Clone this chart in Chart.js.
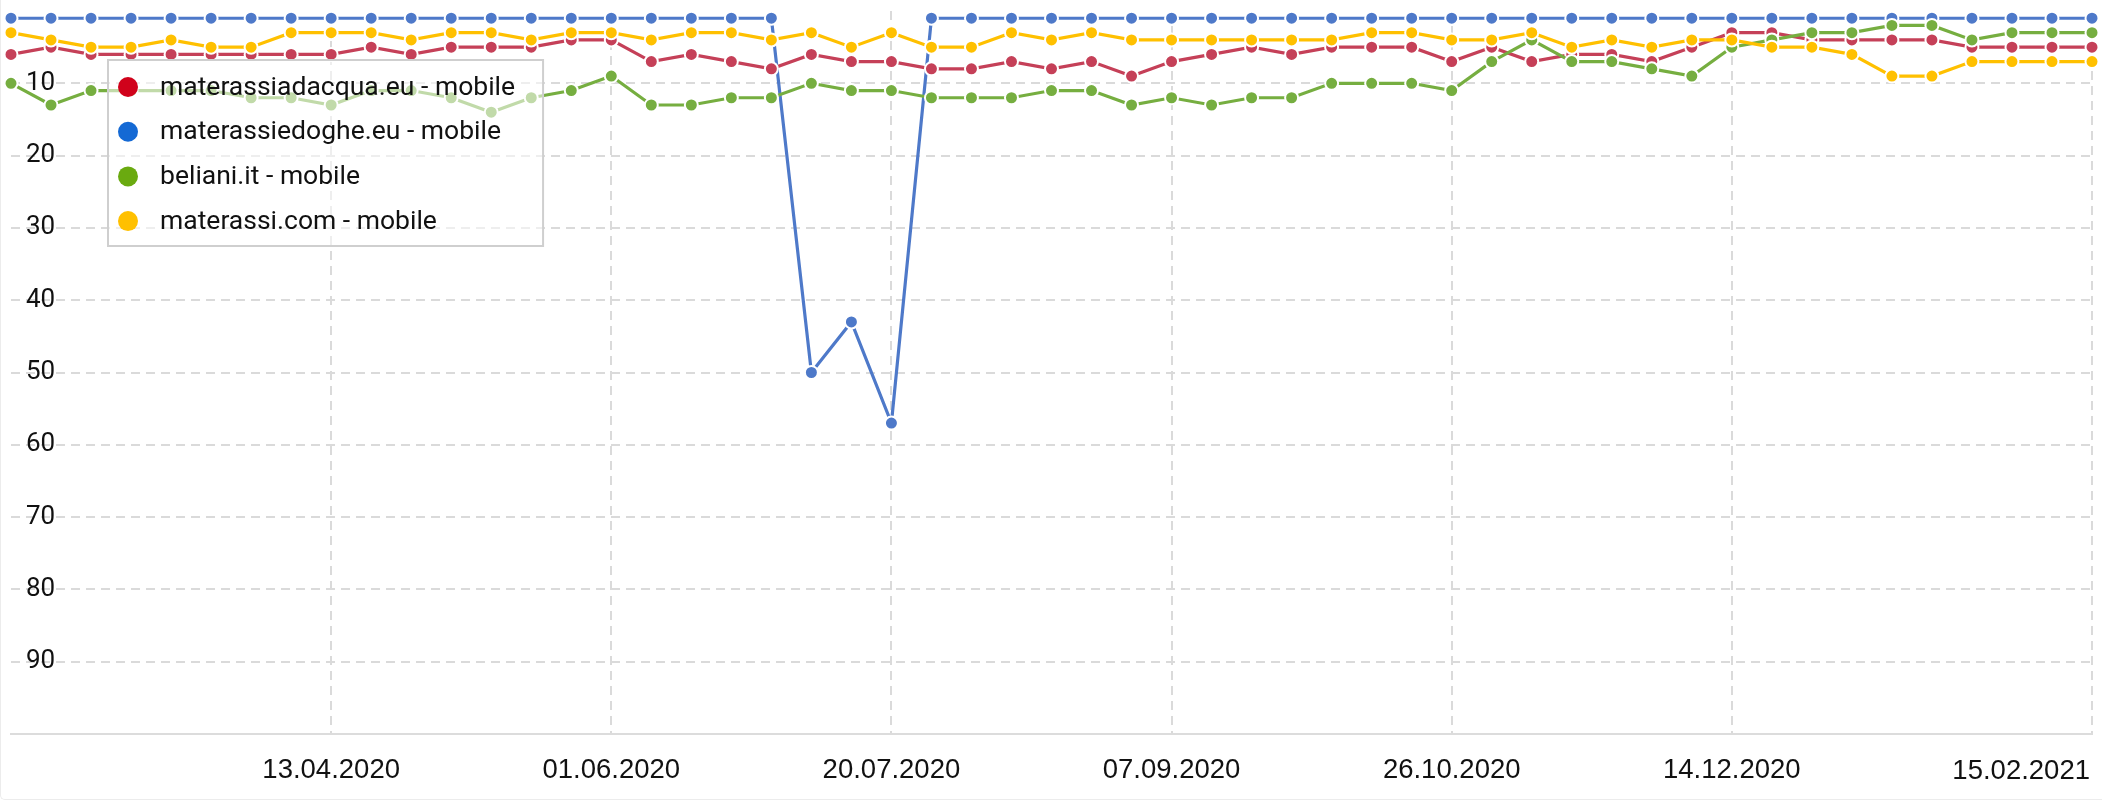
<!DOCTYPE html>
<html>
<head>
<meta charset="utf-8">
<script src="https://cdn.jsdelivr.net/npm/chart.js@4.4.1/dist/chart.umd.min.js"></script>
<style>
  html, body { margin: 0; padding: 0; background: #fff; }
  #wrap {
    position: relative; width: 2102px; height: 800px; box-sizing: border-box;
    border-left: 1px solid #ececec; border-bottom: 1px solid #ececec; border-bottom-left-radius: 5px;
  }
</style>
</head>
<body>
<div id="wrap"><canvas id="rankChart"></canvas></div>
<script>
// weekly dates
const weeks = [
  '17.02.2020', '24.02.2020', '02.03.2020', '09.03.2020', '16.03.2020', '23.03.2020', '30.03.2020',
  '06.04.2020', '13.04.2020', '20.04.2020', '27.04.2020', '04.05.2020', '11.05.2020', '18.05.2020',
  '25.05.2020', '01.06.2020', '08.06.2020', '15.06.2020', '22.06.2020', '29.06.2020', '06.07.2020',
  '13.07.2020', '20.07.2020', '27.07.2020', '03.08.2020', '10.08.2020', '17.08.2020', '24.08.2020',
  '31.08.2020', '07.09.2020', '14.09.2020', '21.09.2020', '28.09.2020', '05.10.2020', '12.10.2020',
  '19.10.2020', '26.10.2020', '02.11.2020', '09.11.2020', '16.11.2020', '23.11.2020', '30.11.2020',
  '07.12.2020', '14.12.2020', '21.12.2020', '28.12.2020', '04.01.2021', '11.01.2021', '18.01.2021',
  '25.01.2021', '01.02.2021', '08.02.2021', '15.02.2021'
];
const shownTicks = ['13.04.2020', '01.06.2020', '20.07.2020', '07.09.2020', '26.10.2020', '14.12.2020', '15.02.2021'];
const rankTicks = [10, 20, 30, 40, 50, 60, 70, 80, 90];

// positions (rank) per domain
const materassiadacqua = [6, 5, 6, 6, 6, 6, 6, 6, 6, 5, 6, 5, 5, 5, 4, 4, 7, 6, 7, 8, 6, 7, 7, 8, 8, 7, 8,
  7, 9, 7, 6, 5, 6, 5, 5, 5, 7, 5, 7, 6, 6, 7, 5, 3, 3, 4, 4, 4, 4, 5, 5, 5, 5];
const materassiedoghe = [1, 1, 1, 1, 1, 1, 1, 1, 1, 1, 1, 1, 1, 1, 1, 1, 1, 1, 1, 1, 50, 43, 57, 1, 1, 1, 1,
  1, 1, 1, 1, 1, 1, 1, 1, 1, 1, 1, 1, 1, 1, 1, 1, 1, 1, 1, 1, 1, 1, 1, 1, 1, 1];
const beliani = [10, 13, 11, 11, 11, 11, 12, 12, 13, 11, 11, 12, 14, 12, 11, 9, 13, 13, 12, 12, 10, 11, 11, 12, 12, 12, 11,
  11, 13, 12, 13, 12, 12, 10, 10, 10, 11, 7, 4, 7, 7, 8, 9, 5, 4, 3, 3, 2, 2, 4, 3, 3, 3];
const materassi = [3, 4, 5, 5, 4, 5, 5, 3, 3, 3, 4, 3, 3, 4, 3, 3, 4, 3, 3, 4, 3, 5, 3, 5, 5, 3, 4,
  3, 4, 4, 4, 4, 4, 4, 3, 3, 4, 4, 3, 5, 4, 5, 4, 4, 5, 5, 6, 9, 9, 7, 7, 7, 7];

const legendOrder = ['materassiadacqua.eu - mobile', 'materassiedoghe.eu - mobile', 'beliani.it - mobile', 'materassi.com - mobile'];

function series(label, data, line, dot) {
  return {
    label: label, data: data, legendColor: dot,
    borderColor: line, backgroundColor: line, borderWidth: 3.2,
    pointRadius: 6.5, pointBorderWidth: 2, pointBorderColor: '#fff', pointBackgroundColor: line,
    pointHoverRadius: 6.5, tension: 0
  };
}

// legend box drawn over the plot, top left
const boxLegend = {
  id: 'boxLegend',
  afterDatasetsDraw(chart) {
    const ctx = chart.ctx;
    const items = legendOrder.map(l => chart.data.datasets.find(d => d.label === l));
    const x0 = 107, y0 = 60, rowH = 44.7;
    ctx.save();
    ctx.font = '26.5px Roboto';
    let w = 0;
    items.forEach(d => { w = Math.max(w, ctx.measureText(d.label).width); });
    const bw = 52 + w + 28, bh = 186;
    ctx.fillStyle = 'rgba(255,255,255,0.55)';
    ctx.fillRect(x0, y0, bw, bh);
    ctx.strokeStyle = '#cfcfcf';
    ctx.lineWidth = 2;
    ctx.strokeRect(x0, y0, bw, bh);
    items.forEach((d, i) => {
      const cy = y0 + 27 + i * rowH;
      ctx.beginPath();
      ctx.arc(x0 + 20, cy, 10, 0, Math.PI * 2);
      ctx.fillStyle = d.legendColor;
      ctx.fill();
      ctx.fillStyle = '#111';
      ctx.textBaseline = 'middle';
      ctx.textAlign = 'left';
      ctx.fillText(d.label, x0 + 52, cy + 1);
    });
    ctx.restore();
  }
};

// last date label sits right-aligned on the last tick
const endLabel = {
  id: 'endLabel',
  afterDraw(chart) {
    const sx = chart.scales.x;
    const last = weeks.length - 1;
    const ctx = chart.ctx;
    ctx.save();
    ctx.font = '27.5px "Liberation Sans"';
    ctx.fillStyle = '#111';
    ctx.textAlign = 'right';
    ctx.textBaseline = 'middle';
    ctx.fillText(weeks[last], sx.getPixelForValue(last) - 2, 771);
    ctx.restore();
  }
};

new Chart(document.getElementById('rankChart'), {
  type: 'line',
  data: {
    labels: weeks,
    datasets: [
      series('materassi.com - mobile', materassi, '#ffc000', '#ffc000'),
      series('beliani.it - mobile', beliani, '#76ae40', '#6aaa10'),
      series('materassiadacqua.eu - mobile', materassiadacqua, '#c54058', '#d0021b'),
      series('materassiedoghe.eu - mobile', materassiedoghe, '#4e79c9', '#1469d4')
    ]
  },
  options: {
    responsive: true,
    maintainAspectRatio: false,
    animation: false,
    layout: { padding: { top: 11, left: 10, right: 10, bottom: 0 } },
    plugins: { legend: { display: false }, tooltip: { enabled: false } },
    scales: {
      x: {
        offset: false,
        afterBuildTicks: scale => {
          scale.ticks = scale.ticks.filter(t => shownTicks.includes(weeks[t.value]));
        },
        afterFit: scale => {
          scale.height = 65;
          scale.paddingLeft = 0;
          scale.paddingRight = 0;
        },
        ticks: {
          autoSkip: false, maxRotation: 0, padding: 20,
          color: '#111', font: { family: 'Liberation Sans', size: 27.5 },
          callback: function (value) {
            return value === weeks.length - 1 ? '' : this.getLabelForValue(value);
          }
        },
        grid: { color: '#dadada', lineWidth: 2, drawTicks: false },
        border: { display: true, color: '#dcdcdc', width: 2, dash: [9, 6] }
      },
      y: {
        reverse: true, min: 0, max: 100,
        afterBuildTicks: scale => {
          scale.ticks = rankTicks.map(v => ({ value: v }));
        },
        afterFit: scale => {
          scale.width = 0;
          scale.paddingTop = 0;
          scale.paddingBottom = 0;
        },
        ticks: {
          mirror: true, padding: 15,
          color: '#111', font: { family: 'Roboto', size: 26 }
        },
        grid: { color: '#dadada', lineWidth: 2, drawTicks: false },
        border: { display: false, dash: [9, 6] }
      }
    }
  },
  plugins: [boxLegend, endLabel]
});
</script>
</body>
</html>
